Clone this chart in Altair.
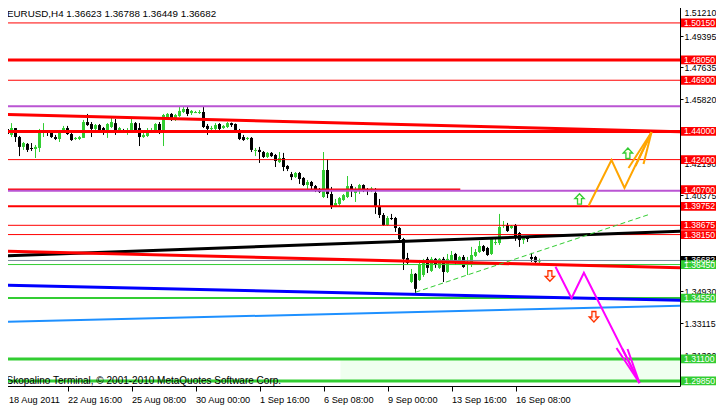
import altair as alt
import pandas as pd

FONT = "Liberation Sans"

# ---------------- candle data (EURUSD H4) ----------------
opens = [1.4425,1.4414,1.4380,1.4419,1.4368,1.4312,1.4329,1.4306,1.4300,1.4306,
         1.4394,1.4397,1.4397,1.4368,1.4357,1.4397,1.4419,1.4385,1.4357,1.4357,
         1.4363,1.4453,1.4442,1.4414,1.4436,1.4419,1.4402,1.4425,1.4447,1.4402,
         1.4408,1.4402,1.4402,1.4447,1.4419,1.4368,1.4374,1.4405,1.4397,1.4442,
         1.4397,1.4476,1.4499,1.4465,1.4487,1.4510,1.4527,1.4504,1.4507,1.4507,
         1.4510,1.4431,1.4414,1.4414,1.4442,1.4419,1.4425,1.4447,1.4442,1.4408,
         1.4368,1.4357,1.4363,1.4289,1.4295,1.4283,1.4255,1.4278,1.4266,1.4226,
         1.4249,1.4204,1.4158,1.4141,1.4164,1.4136,1.4096,1.4113,1.4090,1.4073,
         1.4028,1.4181,1.4045,1.3977,1.3988,1.4011,1.4028,1.4090,1.4051,1.4062,
         1.4096,1.4068,1.4073,1.4051,1.3971,1.3926,1.3869,1.3909,1.3909,1.3852,
         1.3790,1.3682,1.3546,1.3592,1.3557,1.3586,1.3677,1.3609,1.3677,1.3626,
         1.3677,1.3603,1.3660,1.3705,1.3660,1.3688,1.3643,1.3654,1.3694,1.3716,
         1.3750,1.3739,1.3705,1.3767,1.3767,1.3864,1.3869,1.3852,1.3869,1.3824,
         1.3784,1.3796,1.3688,1.3688,1.36623]
highs = [1.4436,1.4419,1.4447,1.4419,1.4374,1.4340,1.4334,1.4334,1.4323,1.4414,
         1.4447,1.4402,1.4397,1.4380,1.4408,1.4431,1.4431,1.4391,1.4368,1.4374,
         1.4465,1.4499,1.4453,1.4442,1.4442,1.4425,1.4447,1.4476,1.4470,1.4425,
         1.4414,1.4419,1.4476,1.4453,1.4447,1.4391,1.4419,1.4419,1.4447,1.4453,
         1.4499,1.4504,1.4504,1.4499,1.4538,1.4538,1.4538,1.4521,1.4516,1.4521,
         1.4538,1.4442,1.4431,1.4447,1.4447,1.4436,1.4453,1.4450,1.4445,1.4414,
         1.4380,1.4368,1.4368,1.4306,1.4312,1.4289,1.4283,1.4283,1.4272,1.4283,
         1.4278,1.4209,1.4170,1.4170,1.4170,1.4141,1.4124,1.4119,1.4096,1.4079,
         1.4283,1.4243,1.4085,1.4017,1.4028,1.4045,1.4147,1.4102,1.4085,1.4102,
         1.4100,1.4079,1.4085,1.4079,1.4017,1.3937,1.3920,1.3932,1.3915,1.3858,
         1.3796,1.3711,1.3620,1.3597,1.3671,1.3677,1.3688,1.3688,1.3682,1.3682,
         1.3688,1.3705,1.3722,1.3711,1.3694,1.3699,1.3688,1.3745,1.3733,1.3779,
         1.3756,1.3745,1.3796,1.3790,1.3932,1.3892,1.3881,1.3869,1.3875,1.3830,
         1.3801,1.3801,1.3711,1.3694,1.36788]
lows = [1.4391,1.4374,1.4368,1.4340,1.4260,1.4295,1.4283,1.4289,1.4249,1.4283,
        1.4368,1.4374,1.4363,1.4351,1.4340,1.4391,1.4380,1.4346,1.4351,1.4351,
        1.4363,1.4431,1.4368,1.4397,1.4402,1.4380,1.4363,1.4419,1.4380,1.4391,
        1.4397,1.4380,1.4397,1.4397,1.4317,1.4363,1.4368,1.4397,1.4391,1.4385,
        1.4317,1.4470,1.4459,1.4459,1.4482,1.4504,1.4487,1.4493,1.4504,1.4499,
        1.4419,1.4380,1.4402,1.4402,1.4402,1.4414,1.4419,1.4425,1.4391,1.4351,
        1.4346,1.4351,1.4283,1.4260,1.4221,1.4249,1.4249,1.4255,1.4198,1.4221,
        1.4175,1.4175,1.4124,1.4136,1.4102,1.4090,1.4068,1.4068,1.4056,1.4051,
        1.4022,1.4022,1.3960,1.3971,1.3977,1.4005,1.4022,1.4028,1.4000,1.4045,
        1.4056,1.4039,1.4056,1.3932,1.3909,1.3864,1.3864,1.3898,1.3830,1.3779,
        1.3614,1.3643,1.3540,1.3484,1.3552,1.3575,1.3597,1.3603,1.3626,1.3620,
        1.3546,1.3597,1.3654,1.3643,1.3654,1.3626,1.3586,1.3631,1.3688,1.3711,
        1.3716,1.3694,1.3699,1.3756,1.3756,1.3852,1.3830,1.3847,1.3779,1.3745,
        1.3762,1.3773,1.3660,1.3654,1.36449]
closes = [1.4397,1.4385,1.4419,1.4368,1.4312,1.4334,1.4295,1.4303,1.4312,1.4397,
          1.4397,1.4391,1.4368,1.4357,1.4397,1.4419,1.4385,1.4351,1.4363,1.4368,
          1.4453,1.4436,1.4414,1.4436,1.4408,1.4397,1.4442,1.4453,1.4397,1.4419,
          1.4402,1.4405,1.4447,1.4408,1.4368,1.4380,1.4408,1.4408,1.4442,1.4397,
          1.4493,1.4499,1.4465,1.4493,1.4516,1.4527,1.4499,1.4516,1.4510,1.4510,
          1.4425,1.4414,1.4419,1.4436,1.4414,1.4431,1.4447,1.4436,1.4408,1.4357,
          1.4351,1.4363,1.4295,1.4295,1.4283,1.4255,1.4278,1.4260,1.4232,1.4249,
          1.4198,1.4187,1.4141,1.4164,1.4130,1.4096,1.4113,1.4090,1.4068,1.4056,
          1.4181,1.4045,1.3971,1.3994,1.4022,1.4039,1.4090,1.4062,1.4062,1.4096,
          1.4062,1.4065,1.4076,1.3971,1.3926,1.3869,1.3909,1.3903,1.3852,1.3790,
          1.3677,1.3654,1.3592,1.3507,1.3648,1.3671,1.3626,1.3677,1.3643,1.3677,
          1.3603,1.3677,1.3699,1.3660,1.3688,1.3631,1.3660,1.3699,1.3716,1.3750,
          1.3722,1.3699,1.3790,1.3773,1.3858,1.3869,1.3835,1.3864,1.3796,1.3784,
          1.3796,1.3793,1.3677,1.3660,1.36682]

x_tick_labels = ["18 Aug 2011", "22 Aug 16:00", "25 Aug 08:00", "30 Aug 00:00",
                 "1 Sep 16:00", "6 Sep 08:00", "9 Sep 00:00", "13 Sep 16:00",
                 "16 Sep 08:00"]
x_tick_bars = [0, 16, 32, 48, 64, 80, 96, 112, 128]
# scale prices that stay readable next to the object labels
y_tick_values = [1.29540, 1.31300, 1.33115, 1.34930, 1.40375, 1.42190, 1.45820,
                 1.47635, 1.49395, 1.51210]

# ---------------- horizontal levels ----------------
level_price = [1.50150, 1.48050, 1.46900, 1.45430, 1.44000, 1.42400, 1.40700,
               1.40630, 1.39752, 1.38675, 1.38150, 1.36682, 1.36450, 1.34550,
               1.31100, 1.29850]
level_color = ["#FF0000", "#FF0000", "#FF0000", "#BA55D3", "#FF0000", "#FF0000",
               "#FF0000", "#BA55D3", "#FF0000", "#FF0000", "#FF0000", "#778899",
               "#32CD32", "#32CD32", "#32CD32", "#32CD32"]
level_width = [1, 3, 1, 2, 3, 1, 2, 2, 2, 1, 1, 1, 1, 2, 3, 3]
level_end = [170.6, 170.6, 170.6, 170.6, 170.6, 170.6, 114.2, 170.6, 170.6,
             170.6, 170.6, 170.6, 170.6, 170.6, 170.6, 170.6]

# price labels on the right scale
box_price = [1.50150, 1.48050, 1.46900, 1.44000, 1.42400, 1.40700, 1.39752,
             1.38675, 1.38150, 1.36682, 1.36450, 1.34550, 1.31100, 1.29850]
box_color = ["#FF0000"] * 9 + ["#000000"] + ["#32CD32"] * 4

# ---------------- trend lines ----------------
trend_name = ["red_top", "black", "red_low", "blue", "lightblue", "channel"]
trend_x0 = [-0.4, -0.4, -0.4, -0.4, -0.4, 103.0]
trend_p0 = [1.44969, 1.36935, 1.37218, 1.35291, 1.33193, 1.34880]
trend_x1 = [170.6, 170.6, 170.6, 170.6, 170.6, 161.75]
trend_p1 = [1.43977, 1.38352, 1.36254, 1.34412, 1.34128, 1.39316]
trend_color = ["#FF0000", "#000000", "#FF0000", "#0000FF", "#1E90FF", "#32CD32"]
trend_width = [3, 3, 3, 3, 2, 1]
trend_dash = [0, 0, 0, 0, 0, 1]

# ---------------- forecast paths ----------------
up_path_x = [146.25, 152.0, 155.25, 162.0]
up_path_p = [1.3977, 1.4238, 1.4079, 1.4395]
up_barb_x = [156.25, 158.0, 160.0]
up_barb_p = [1.41924, 1.42038, 1.42151]
dn_path_x = [138.0, 142.0, 145.1, 159.0]
dn_path_p = [1.36328, 1.34537, 1.35988, 1.29734]
dn_barb_x = [153.25, 154.75, 156.0]
dn_barb_p = [1.31718, 1.31662, 1.31662]

up_arrow_x = [144.0, 156.1]
up_arrow_p = [1.4017, 1.4276]
dn_arrow_x = [136.6, 147.6]
dn_arrow_p = [1.3580, 1.3349]

zone_x = [84.25, 170.6]
zone_p = [1.29850, 1.31100]

# ---------------- build tables ----------------
n = len(opens)
candles = pd.DataFrame({"i": list(range(n)), "o": opens, "h": highs,
                        "l": lows, "c": closes})
candles["col"] = ["#32CD32" if c >= o else "#000000" for o, c in zip(opens, closes)]

levels = pd.DataFrame({"p": level_price, "col": level_color, "w": level_width,
                       "x0": [-0.4] * len(level_price), "x1": level_end})

rows = []
for k, nm in enumerate(trend_name):
    rows.append({"id": nm, "ord": 0, "x": trend_x0[k], "p": trend_p0[k],
                 "col": trend_color[k], "w": trend_width[k], "dash": trend_dash[k]})
    rows.append({"id": nm, "ord": 1, "x": trend_x1[k], "p": trend_p1[k],
                 "col": trend_color[k], "w": trend_width[k], "dash": trend_dash[k]})
trends = pd.DataFrame(rows)

prow = []
for j in range(len(up_path_x)):
    prow.append({"id": "up", "ord": j, "x": up_path_x[j], "p": up_path_p[j], "col": "#FFA500"})
for b in range(len(up_barb_x)):
    prow.append({"id": f"ub{b}", "ord": 0, "x": up_barb_x[b], "p": up_barb_p[b], "col": "#FFA500"})
    prow.append({"id": f"ub{b}", "ord": 1, "x": up_path_x[-1], "p": up_path_p[-1], "col": "#FFA500"})
for j in range(len(dn_path_x)):
    prow.append({"id": "dn", "ord": j, "x": dn_path_x[j], "p": dn_path_p[j], "col": "#FF00FF"})
for b in range(len(dn_barb_x)):
    prow.append({"id": f"db{b}", "ord": 0, "x": dn_barb_x[b], "p": dn_barb_p[b], "col": "#FF00FF"})
    prow.append({"id": f"db{b}", "ord": 1, "x": dn_path_x[-1], "p": dn_path_p[-1], "col": "#FF00FF"})
paths = pd.DataFrame(prow)

ups = pd.DataFrame({"x": up_arrow_x, "p": up_arrow_p})
dns = pd.DataFrame({"x": dn_arrow_x, "p": dn_arrow_p})
zone = pd.DataFrame({"x0": [zone_x[0]], "x1": [zone_x[1]], "p0": [zone_p[0]], "p1": [zone_p[1]]})
boxes = pd.DataFrame({"p": box_price, "col": box_color})

# ---------------- scales / axes ----------------
W, H = 678, 384
xs = alt.Scale(domain=[-0.375, 169.125], nice=False, zero=False)
ys = alt.Scale(domain=[1.295638, 1.513366], nice=False, zero=False)

lab_arr = "[" + ",".join(f"'{s}'" for s in x_tick_labels) + "]"
x_axis = alt.Axis(values=x_tick_bars, labelExpr=f"{lab_arr}[round(datum.value/16)]",
                  orient="bottom", tickSize=5, tickColor="black", domainColor="black",
                  labelAlign="left", labelBaseline="top", labelPadding=4,
                  labelOffset={"condition": {"test": "datum.value == 0", "value": 5}, "value": 0},
                  labelFont=FONT, labelFontSize=9.2, labelColor="black",
                  labelFlush=False, labelOverlap=False, grid=False, title=None)
y_axis = alt.Axis(values=y_tick_values, format=".5f", orient="right", tickSize=3,
                  tickColor="black", domainColor="black", labelPadding=1,
                  labelOffset={"condition": {"test": "datum.value > 1.51", "value": 8}, "value": 0},
                  labelFont=FONT, labelFontSize=8.8, labelColor="black",
                  labelBaseline="middle", labelOverlap=False, labelFlush=False,
                  grid=False, title=None)

X = lambda f: alt.X(f, type="quantitative", scale=xs, axis=x_axis)
Y = lambda f: alt.Y(f, type="quantitative", scale=ys, axis=y_axis)
COL = alt.Color("col:N", scale=None)

zone_l = alt.Chart(zone).mark_rect(color="#F0FFF0", clip=True).encode(
    x=X("x0"), x2="x1", y=Y("p0"), y2="p1")

wicks = alt.Chart(candles).mark_rule(strokeWidth=1).encode(
    x=X("i"), y=Y("l"), y2="h", color=COL)

bodies = alt.Chart(candles).transform_calculate(
    top="max(datum.o, datum.c)",
    bot0="min(datum.o, datum.c)",
).transform_calculate(
    bot="datum.top - datum.bot0 < 0.0006 ? datum.top - 0.0006 : datum.bot0",
    xa="datum.i - 0.375",
    xb="datum.i + 0.375",
).mark_rect().encode(
    x=X("xa"), x2="xb", y=Y("bot"), y2="top", color=COL)

level_l = alt.Chart(levels).mark_rule(clip=True).encode(
    x=X("x0"), x2="x1", y=Y("p"), color=COL,
    strokeWidth=alt.StrokeWidth("w:Q", scale=None))

trend_solid = alt.Chart(trends).transform_filter("datum.dash == 0").mark_line(clip=True).encode(
    x=X("x"), y=Y("p"), detail="id:N", order="ord:Q", color=COL,
    strokeWidth=alt.StrokeWidth("w:Q", scale=None))
trend_dash_l = alt.Chart(trends).transform_filter("datum.dash == 1").mark_line(
    clip=True, strokeDash=[5, 3], strokeWidth=1).encode(
    x=X("x"), y=Y("p"), detail="id:N", order="ord:Q", color=COL)

path_l = alt.Chart(paths).mark_line(strokeWidth=2, clip=True).encode(
    x=X("x"), y=Y("p"), detail="id:N", order="ord:Q", color=COL)

UP = "M0,-1 L0.9,-0.05 L0.38,-0.05 L0.38,1 L-0.38,1 L-0.38,-0.05 L-0.9,-0.05 Z"
DN = "M0,1 L0.9,0.05 L0.38,0.05 L0.38,-1 L-0.38,-1 L-0.38,0.05 L-0.9,0.05 Z"
up_l = alt.Chart(ups).mark_point(shape=UP, size=110, filled=True, fill="#FFFFE8",
                                 stroke="#33CC33", strokeWidth=1.3, opacity=1).encode(
    x=X("x"), y=Y("p"))
dn_l = alt.Chart(dns).mark_point(shape=DN, size=110, filled=True, fill="#FFEFEF",
                                 stroke="#FF3300", strokeWidth=1.3, opacity=1).encode(
    x=X("x"), y=Y("p"))

box_l = alt.Chart(boxes).transform_calculate(
    pa="datum.p - 0.0025", pb="datum.p + 0.0025"
).mark_rect(clip=False).encode(
    x=alt.value(679), x2=alt.value(716), y=Y("pa"), y2="pb", color=COL)
box_t = alt.Chart(boxes).mark_text(align="left", baseline="middle", font=FONT,
                                   fontSize=8.6, color="white").encode(
    x=alt.value(682), y=Y("p"), text=alt.Text("p:Q", format=".5f"))

title_l = alt.Chart(pd.DataFrame({"t": ["EURUSD,H4  1.36623 1.36788 1.36449 1.36682"]})).mark_text(
    align="left", baseline="middle", font=FONT, fontSize=9.8, color="black").encode(
    x=alt.value(5), y=alt.value(11.5), text="t:N")
copy_l = alt.Chart(pd.DataFrame({"t": ["Skopalino Terminal, \u00a9 2001-2010 MetaQuotes Software Corp."]})).mark_text(
    align="left", baseline="middle", font=FONT, fontSize=10, color="black").encode(
    x=alt.value(4.5), y=alt.value(379), text="t:N")

chart = alt.layer(
    zone_l, wicks, bodies, level_l, trend_solid, trend_dash_l, path_l,
    up_l, dn_l, box_l, box_t, title_l, copy_l
).properties(
    width=W, height=H,
    autosize=alt.AutoSizeParams(type="none"),
    padding={"left": -6, "top": -6, "right": 36, "bottom": 21},
    background="white",
).configure_view(stroke=None)

chart.save("out.html", embed_options={"renderer": "svg", "actions": False})
